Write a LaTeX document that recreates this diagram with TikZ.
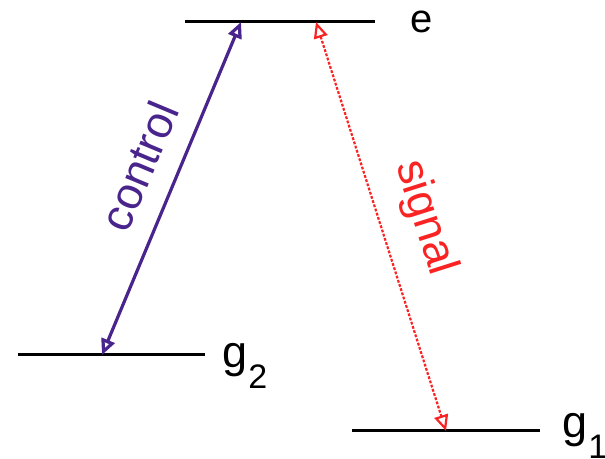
\documentclass[tikz,border=0pt]{standalone}
\usepackage{fontspec}
\setmainfont{Liberation Sans}
\usetikzlibrary{arrows.meta}
\definecolor{ctrlcol}{RGB}{72,36,140}
\definecolor{sigcol}{RGB}{250,35,35}
\newcommand{\lvsub}[1]{\hspace{0.5pt}\raisebox{-10.5pt}{\fontsize{17}{20}\selectfont #1}}
\tikzset{
  level/.style={line width=1.5pt,black},
  ctrl/.style={line width=1.6pt,ctrlcol,{Triangle[open,length=8pt,width=7pt]}-{Triangle[open,length=8pt,width=7pt]}},
  sig/.style={line width=1.1pt,sigcol,dash pattern=on 1.4pt off 0.8pt,{Triangle[open,length=8pt,width=7pt]}-{Triangle[open,length=8pt,width=7pt]}},
  lab/.style={inner sep=0pt,font=\fontsize{22.5}{26}\selectfont}
}
\begin{document}
\begin{tikzpicture}[x=0.5pt,y=0.5pt]
\useasboundingbox (0,0) rectangle (605,459);
% levels
\coordinate (e-l) at (185,437);
\coordinate (e-r) at (375,437);
\coordinate (g2-l) at (18,104);
\coordinate (g2-r) at (205,104);
\coordinate (g1-l) at (352,28);
\coordinate (g1-r) at (540,28);
\draw[level] (e-l)--(e-r);
\draw[level] (g2-l)--(g2-r);
\draw[level] (g1-l)--(g1-r);
% transitions
\coordinate (c-top) at (241,437);
\coordinate (c-bot) at (102,104);
\coordinate (s-top) at (316,437);
\coordinate (s-bot) at (446,28);
\draw[ctrl] (c-bot)--(c-top);
\draw[sig] (s-top)--(s-bot);
% labels
\node[lab,anchor=base west,font=\fontsize{20}{24}\selectfont] (elab) at (410,426) {e};
\node[lab,anchor=base west] (g2lab) at (222,91) {g\lvsub{2}};
\node[lab,anchor=base west] (g1lab) at (562,21) {g\lvsub{1}};
\node[lab,ctrlcol,rotate=67.3] (ctrllab) at (139,293) {control};
\node[lab,sigcol,rotate=-72.4] (siglab) at (425,241) {signal};
\end{tikzpicture}
\end{document}
